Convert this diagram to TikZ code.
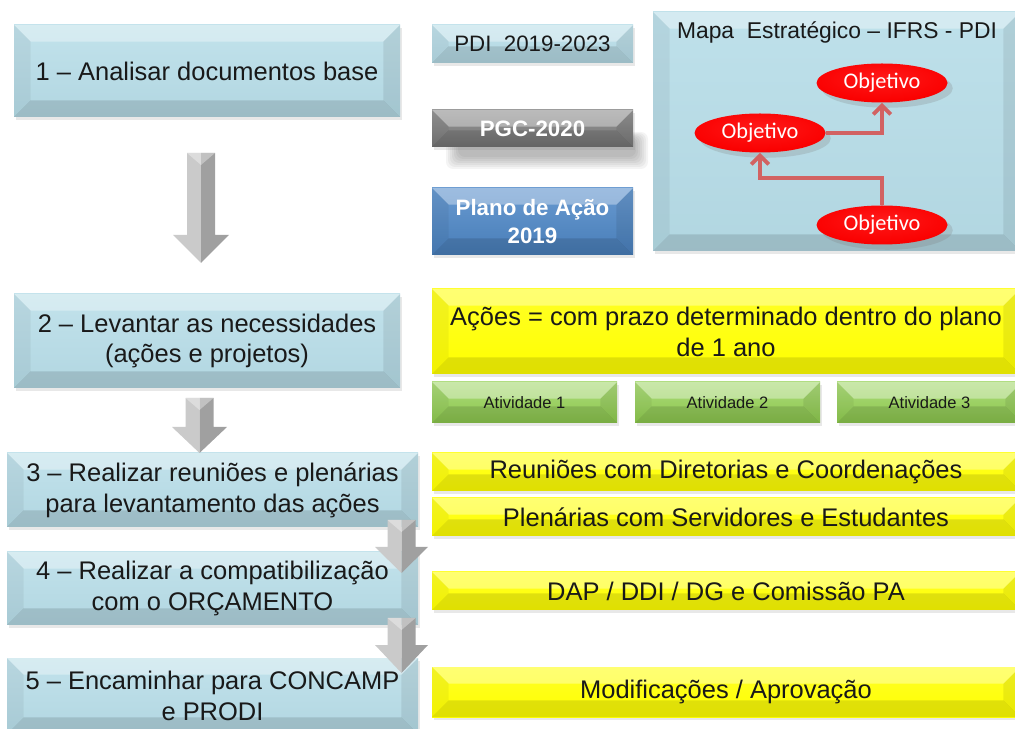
\documentclass[tikz,border=0pt]{standalone}
\usepackage{fontspec}
\setmainfont{Liberation Sans}
\newfontfamily\objfont{Carlito}
\usetikzlibrary{calc,shadows,arrows.meta,shapes.geometric}
\newcommand\pxu{0.02cm}
\newcommand\txtbig{\fontsize{14.5}{17.6}\selectfont}
\newcommand\txtmid{\fontsize{12.7}{15.5}\selectfont}
\newcommand\txtsmall{\fontsize{9.4}{11}\selectfont}
\definecolor{stepblue}{RGB}{183,221,232}
\definecolor{acaoyellow}{RGB}{255,255,0}
\definecolor{ativgreen}{RGB}{146,208,80}
\definecolor{pgcgray}{RGB}{125,125,125}
\definecolor{planoblue}{RGB}{78,136,200}
\definecolor{setared}{RGB}{210,98,98}
\definecolor{setaclara}{RGB}{202,202,202}
\definecolor{setaescura}{RGB}{160,160,160}
\pgfdeclareradialshading{objshade}{\pgfpoint{0bp}{8bp}}{%
  rgb(0bp)=(1,0.1,0.1); rgb(28bp)=(0.98,0,0); rgb(44bp)=(0.8,0,0); rgb(60bp)=(0.62,0,0)}
\tikzset{
  bevel/.style      = {path picture={
      \coordinate (pp-nw) at (path picture bounding box.north west);
      \coordinate (pp-se) at (path picture bounding box.south east);
      \coordinate (pp-ne) at (pp-nw -| pp-se);
      \coordinate (pp-sw) at (pp-nw |- pp-se);
      \fill[white, opacity=.35] (pp-nw) -- (pp-ne) -- ($(pp-ne)+(-#1,-#1)$) -- ($(pp-nw)+(#1,-#1)$) -- cycle;
      \fill[black, opacity=.05] (pp-nw) -- ($(pp-nw)+(#1,-#1)$) -- ($(pp-sw)+(#1,#1)$) -- (pp-sw) -- cycle;
      \fill[black, opacity=.08] (pp-ne) -- (pp-se) -- ($(pp-se)+(-#1,#1)$) -- ($(pp-ne)+(-#1,-#1)$) -- cycle;
      \fill[black, opacity=.12] (pp-sw) -- (pp-se) -- ($(pp-se)+(-#1,#1)$) -- ($(pp-sw)+(#1,#1)$) -- cycle;
  }},
  flatbox/.style    = {shape=rectangle, align=center, inner sep=0pt, bevel=9.5pt,
                       drop shadow={opacity=.18, shadow xshift=1pt, shadow yshift=-1.5pt}},
  stepbox/.style    = {flatbox, top color=stepblue!85!white, bottom color=stepblue!97!black,
                       text=black!90, font=\txtbig},
  mapbox/.style     = {flatbox, top color=stepblue!90!white, bottom color=stepblue!97!black},
  docbox/.style     = {flatbox, top color=stepblue!85!white, bottom color=stepblue!97!black,
                       text=black!90, font=\txtmid},
  pgcbox/.style     = {flatbox, top color=pgcgray!80!white, bottom color=pgcgray!92!black,
                       text=white, font=\txtmid\bfseries},
  planobox/.style   = {flatbox, top color=planoblue!85!white, bottom color=planoblue!92!black,
                       text=white, font=\txtmid\bfseries},
  acaobox/.style    = {flatbox, top color=acaoyellow!85!white, bottom color=acaoyellow,
                       text=black!90, font=\txtbig},
  ativbox/.style    = {flatbox, top color=ativgreen!75!white, bottom color=ativgreen!95!black,
                       text=black!90, font=\txtsmall},
  objetivo/.style   = {ellipse, shading=objshade, text=white, font=\objfont\txtmid,
                       minimum width=131*\pxu, minimum height=39*\pxu, inner sep=0pt,
                       drop shadow={opacity=.25, shadow xshift=3pt, shadow yshift=-3pt}},
  maparrow/.style   = {draw=setared, line width=2.2pt, line join=miter,
                       -{Straight Barb[length=5pt, width=10pt]}},
}
% grey block arrow: centre x, top, start of head, tip, half shaft, half head
\newcommand\grayarrow[6]{%
  \fill[setaclara] (#1-#5,#2) -- (#1,#2) -- (#1,#4) -- (#1-#6,#3) -- (#1-#5,#3) -- cycle;
  \fill[setaescura] (#1,#2) -- (#1+#5,#2) -- (#1+#5,#3) -- (#1+#6,#3) -- (#1,#4) -- cycle;
  \fill[white, opacity=.35] (#1-#5,#2) -- (#1+#5,#2) -- (#1,#2+12) -- cycle;
}

\begin{document}
\begin{tikzpicture}[x=0.02cm, y=-0.02cm]
  \useasboundingbox (0,0) rectangle (1015,729);

  % passos
  \node[stepbox, minimum width=386*\pxu, minimum height=92*\pxu] (analisar) at (207,71)
       {1 – Analisar documentos base};
  \node[stepbox, minimum width=386*\pxu, minimum height=94*\pxu] (levantar) at (207,341)
       {2 – Levantar as necessidades\\(ações e projetos)};
  \node[stepbox, minimum width=411*\pxu, minimum height=74*\pxu] (reunioes) at (212.5,490)
       {3 – Realizar reuniões e plenárias\\para levantamento das ações};
  \node[stepbox, minimum width=411*\pxu, minimum height=73*\pxu] (orcamento) at (212.5,588.5)
       {4 – Realizar a compatibilização\\com o ORÇAMENTO};
  \node[stepbox, minimum width=411*\pxu, minimum height=76*\pxu] (encaminhar) at (212.5,696)
       {5 – Encaminhar para CONCAMP\\e PRODI};

  % documentos base
  \node[docbox, minimum width=201*\pxu, minimum height=38*\pxu] (pdi) at (532.5,44)
       {PDI~~2019-2023};
  \foreach \s in {0,...,6}
    \fill[black, opacity=.045, rounded corners=4pt] (446+2*\s,132+\s) rectangle (648-2*\s,169-2*\s);
  \node[pgcbox, minimum width=201*\pxu, minimum height=37*\pxu] (pgc) at (532.5,128.5)
       {PGC-2020};
  \node[planobox, minimum width=201*\pxu, minimum height=67*\pxu] (plano) at (532.5,221.5)
       {Plano de Ação\\2019};

  % mapa estrategico
  \node[mapbox, minimum width=367*\pxu, minimum height=239*\pxu] (mapa) at (836.5,131.5) {};
  \node[font=\fontsize{13}{15}\selectfont, text=black!90] (titulo) at (837,32)
       {Mapa~~Estratégico – IFRS - PDI};
  \node[objetivo] (obj-a) at (882,83) {Objetivo};
  \node[objetivo] (obj-b) at (760,133) {Objetivo};
  \node[objetivo] (obj-c) at (882,225) {Objetivo};
  \draw[maparrow] (obj-b.east) -| (obj-a.south);
  \draw[maparrow] (obj-c.north) -- ++(0,-27) -| (obj-b.south);

  % acoes e atividades
  \node[acaobox, minimum width=588*\pxu, minimum height=85*\pxu] (acoes) at (726,331.5)
       {Ações = com prazo determinado dentro do plano\\de 1 ano};
  \node[ativbox, minimum width=185*\pxu, minimum height=41*\pxu] (ativ1) at (524.5,402.5) {Atividade 1};
  \node[ativbox, minimum width=185*\pxu, minimum height=41*\pxu] (ativ2) at (727.5,402.5) {Atividade 2};
  \node[ativbox, minimum width=185*\pxu, minimum height=41*\pxu] (ativ3) at (929.5,402.5) {Atividade 3};
  \node[acaobox, minimum width=588*\pxu, minimum height=38*\pxu] (diretorias) at (726,472)
       {Reuniões com Diretorias e Coordenações};
  \node[acaobox, minimum width=588*\pxu, minimum height=38*\pxu] (plenarias) at (726,517)
       {Plenárias com Servidores e Estudantes};
  \node[acaobox, minimum width=588*\pxu, minimum height=38*\pxu] (comissao) at (726,591)
       {DAP / DDI / DG e Comissão PA};
  \node[acaobox, minimum width=588*\pxu, minimum height=50*\pxu] (aprovacao) at (726,692)
       {Modificações / Aprovação};

  % setas entre os passos
  \grayarrow{201}{153}{235}{263}{14}{28}
  \grayarrow{199.5}{398}{427}{453}{14}{27.5}
  \grayarrow{401.5}{520}{547}{573}{14}{26.5}
  \grayarrow{401.5}{618}{645}{673}{14}{26.5}
\end{tikzpicture}
\end{document}
